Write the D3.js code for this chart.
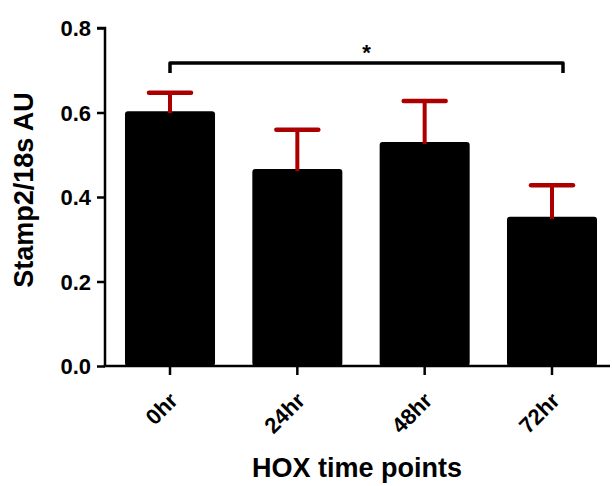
<!DOCTYPE html>
<html>
<head>
<meta charset="utf-8">
<script src="https://cdn.jsdelivr.net/npm/d3@7"></script>
<style>
  body { margin: 0; background: #fff; }
  text { font-family: "Liberation Sans", Arial, sans-serif; font-weight: bold; fill: #000; }
</style>
</head>
<body>
<svg id="chart" width="612" height="486"></svg>
<script>
var categories = ["0hr", "24hr", "48hr", "72hr"];
var means = [0.603, 0.466, 0.530, 0.353];
var sems = [0.044, 0.093, 0.097, 0.075];
var yTicks = [0.0, 0.2, 0.4, 0.6, 0.8];

var svg = d3.select("#chart");

var x = d3.scaleBand().domain(categories)
    .range([105, 617]).paddingInner(0.293).paddingOuter(0.157);
var y = d3.scaleLinear().domain([0, 0.8]).range([366, 28]);

var errColor = "#ac0000";

// bars
svg.selectAll(".bar")
  .data(categories)
  .enter().append("rect")
    .attr("class", "bar")
    .attr("x", function(d) { return x(d); })
    .attr("y", function(d, i) { return y(means[i]); })
    .attr("width", x.bandwidth())
    .attr("height", function(d, i) { return y(0) - y(means[i]); })
    .attr("rx", 3)
    .attr("fill", "#000");

// error bars (upper only)
var cx = function(d) { return x(d) + x.bandwidth() / 2; };
svg.selectAll(".err")
  .data(categories)
  .enter().append("line")
    .attr("x1", cx).attr("x2", cx)
    .attr("y1", function(d, i) { return y(means[i]) + 2; })
    .attr("y2", function(d, i) { return y(means[i] + sems[i]); })
    .attr("stroke", errColor).attr("stroke-width", 4);
svg.selectAll(".cap")
  .data(categories)
  .enter().append("line")
    .attr("x1", function(d) { return cx(d) - 21; })
    .attr("x2", function(d) { return cx(d) + 21; })
    .attr("y1", function(d, i) { return y(means[i] + sems[i]); })
    .attr("y2", function(d, i) { return y(means[i] + sems[i]); })
    .attr("stroke", errColor).attr("stroke-width", 4.5).attr("stroke-linecap", "round");

// y axis
var yAxis = svg.append("g")
    .attr("transform", "translate(105,0)")
    .call(d3.axisLeft(y).tickValues(yTicks).tickFormat(d3.format(".1f")).tickSize(8).tickSizeOuter(0));
yAxis.select(".domain").attr("stroke-width", 2.5).attr("d", "M-8,28H0V366");
yAxis.selectAll(".tick line").attr("stroke-width", 2.5);
yAxis.selectAll(".tick text")
    .attr("x", -14)
    .style("font-size", "22px")
    .attr("dy", "0.36em");

// x axis
var xAxis = svg.append("g")
    .attr("transform", "translate(0,366)")
    .call(d3.axisBottom(x).tickSize(9).tickSizeOuter(0));
xAxis.select(".domain").attr("stroke-width", 2.5).attr("d", "M103.75,0H610");
xAxis.selectAll(".tick line").attr("stroke-width", 2.5);
xAxis.selectAll(".tick text")
    .style("font-size", "22px")
    .attr("text-anchor", "end")
    .attr("y", 0).attr("dy", 0)
    .attr("transform", "translate(9,36) rotate(-45)");

// axis titles
svg.append("text")
    .attr("transform", "translate(33,190) rotate(-90)")
    .attr("text-anchor", "middle")
    .style("font-size", "27px")
    .text("Stamp2/18s AU");

svg.append("text")
    .attr("x", 357).attr("y", 477)
    .attr("text-anchor", "middle")
    .style("font-size", "27px")
    .text("HOX time points");

// significance bracket
var bx1 = cx("0hr"), bx2 = cx("72hr") + 11, by = 63;
svg.append("path")
    .attr("d", "M" + bx1 + "," + (by + 10) + "V" + by + "H" + bx2 + "V" + (by + 10))
    .attr("fill", "none").attr("stroke", "#000").attr("stroke-width", 3.5)
    .attr("stroke-linejoin", "round");
svg.append("text")
    .attr("x", (bx1 + bx2) / 2).attr("y", 60)
    .attr("text-anchor", "middle")
    .style("font-size", "22px")
    .text("*");
</script>
</body>
</html>
